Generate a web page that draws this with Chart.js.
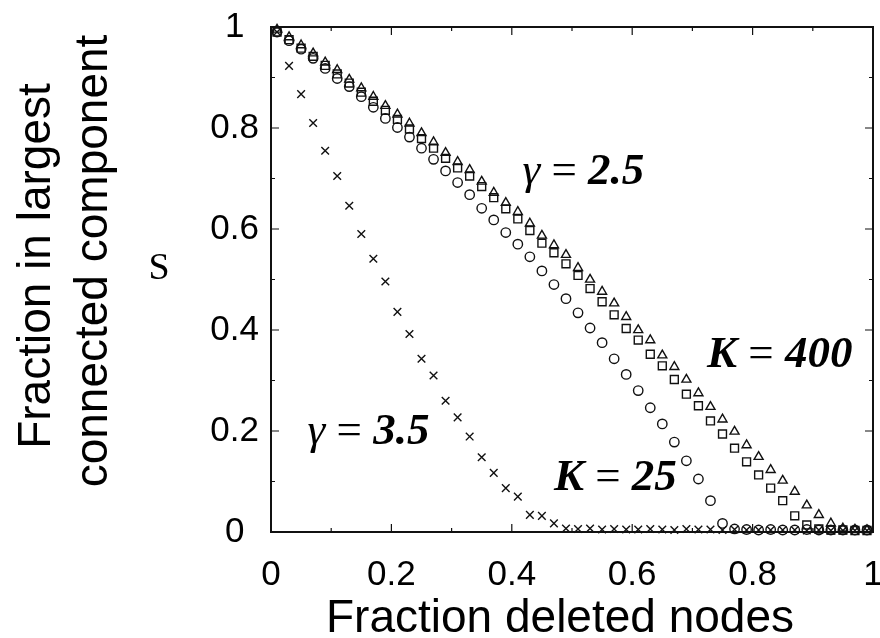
<!DOCTYPE html>
<html>
<head>
<meta charset="utf-8">
<title>Fraction in largest connected component</title>
<script src="https://cdn.jsdelivr.net/npm/chart.js@4.4.1/dist/chart.umd.min.js"></script>
<style>
  html, body { margin: 0; padding: 0; background: #ffffff; }
  #wrap { width: 880px; height: 638px; position: relative; }
</style>
</head>
<body>
<div id="wrap"><canvas id="chart"></canvas></div>
<script>
// Fraction of nodes deleted at each sample
const fractionDeleted = [
  0.01, 0.03, 0.05, 0.07, 0.09, 0.11, 0.13, 0.15, 0.17, 0.19,
  0.21, 0.23, 0.25, 0.27, 0.29, 0.31, 0.33, 0.35, 0.37, 0.39,
  0.41, 0.43, 0.45, 0.47, 0.49, 0.51, 0.53, 0.55, 0.57, 0.59,
  0.61, 0.63, 0.65, 0.67, 0.69, 0.71, 0.73, 0.75, 0.77, 0.79,
  0.81, 0.83, 0.85, 0.87, 0.89, 0.91, 0.93, 0.95, 0.97, 0.99
];

// S: fraction of nodes in the largest connected component
const sGamma25Triangle = [
  0.995, 0.980, 0.964, 0.948, 0.930, 0.915, 0.896, 0.879, 0.862, 0.844,
  0.827, 0.809, 0.790, 0.772, 0.751, 0.733, 0.717, 0.694, 0.672, 0.652,
  0.634, 0.611, 0.587, 0.568, 0.549, 0.523, 0.500, 0.476, 0.453, 0.426,
  0.400, 0.380, 0.350, 0.327, 0.302, 0.275, 0.248, 0.223, 0.199, 0.172,
  0.149, 0.123, 0.102, 0.080, 0.053, 0.034, 0.017, 0.007, 0.005, 0.004
];
const sK400Square = [
  0.990, 0.975, 0.958, 0.942, 0.924, 0.907, 0.889, 0.871, 0.853, 0.835,
  0.817, 0.798, 0.779, 0.760, 0.740, 0.721, 0.705, 0.684, 0.662, 0.640,
  0.620, 0.597, 0.572, 0.553, 0.531, 0.508, 0.482, 0.456, 0.430, 0.403,
  0.380, 0.352, 0.329, 0.302, 0.273, 0.250, 0.220, 0.194, 0.166, 0.139,
  0.113, 0.087, 0.062, 0.032, 0.014, 0.006, 0.004, 0.004, 0.003, 0.003
];
const sK25Circle = [
  0.990, 0.973, 0.956, 0.938, 0.918, 0.898, 0.882, 0.862, 0.841, 0.819,
  0.801, 0.782, 0.760, 0.738, 0.715, 0.692, 0.668, 0.641, 0.618, 0.593,
  0.570, 0.545, 0.517, 0.490, 0.462, 0.434, 0.404, 0.375, 0.343, 0.312,
  0.280, 0.246, 0.214, 0.178, 0.141, 0.105, 0.062, 0.017, 0.006, 0.005,
  0.004, 0.005, 0.004, 0.004, 0.005, 0.004, 0.004, 0.004, 0.004, 0.004
];
const sGamma35Cross = [
  0.990, 0.923, 0.867, 0.810, 0.755, 0.705, 0.646, 0.590, 0.541, 0.496,
  0.436, 0.392, 0.343, 0.310, 0.260, 0.227, 0.189, 0.148, 0.117, 0.087,
  0.070, 0.034, 0.032, 0.017, 0.007, 0.006, 0.007, 0.005, 0.006, 0.005,
  0.005, 0.006, 0.005, 0.004, 0.006, 0.005, 0.005, 0.004, 0.005, 0.004,
  0.004, 0.004, 0.004, 0.004, 0.003, 0.004, 0.003, 0.003, 0.003, 0.003
];

const xTickLabels = ['0', '0.2', '0.4', '0.6', '0.8', '1'];
const yTickLabels = ['0', '0.2', '0.4', '0.6', '0.8', '1'];

const xAxisTitle = 'Fraction deleted nodes';
const yAxisTitle = ['Fraction in largest', 'connected component'];
const yAxisSymbol = 'S';

// Curve labels, anchored in data coordinates
const curveLabels = [
  { x: 0.519, y: 0.713, runs: [['γ', 'italic'], [' = ', 'normal'], ['2.5', 'italic bold']] },
  { x: 0.845, y: 0.350, runs: [['K', 'italic bold'], [' = ', 'normal'], ['400', 'italic bold']] },
  { x: 0.572, y: 0.107, runs: [['K', 'italic bold'], [' = ', 'normal'], ['25', 'italic bold']] },
  { x: 0.162, y: 0.198, runs: [['γ', 'italic'], [' = ', 'normal'], ['3.5', 'italic bold']] }
];

const SANS = "'Liberation Sans', Arial, Helvetica, sans-serif";
const SERIF = "'Liberation Serif', 'Times New Roman', serif";
const INK = '#111111';

function toPoints(values) {
  return fractionDeleted.map((x, i) => ({ x: x, y: values[i] }));
}

function series(label, values, style, radius) {
  return {
    label: label,
    data: toPoints(values),
    pointStyle: style,
    pointRadius: radius,
    pointHoverRadius: radius,
    pointBorderWidth: 1.4,
    borderColor: INK,
    backgroundColor: 'rgba(0,0,0,0)',
    showLine: false,
    clip: false
  };
}

// Closed frame with inward ticks on all four sides (long at labelled values)
const frameTicks = {
  id: 'frameTicks',
  beforeDatasetsDraw(chart) {
    const { ctx, chartArea: a, scales: { x, y } } = chart;
    const minorStep = 0.1, majorLen = 8, minorLen = 4;
    ctx.save();
    ctx.strokeStyle = '#111';
    ctx.lineWidth = 1.2;
    ctx.beginPath();
    for (let i = 0; i <= 10; i++) {
      const v = i * minorStep;
      const len = i % 2 === 0 ? majorLen : minorLen;
      const px = x.getPixelForValue(v);
      const py = y.getPixelForValue(v);
      ctx.moveTo(px, a.bottom); ctx.lineTo(px, a.bottom - len);
      ctx.moveTo(px, a.top); ctx.lineTo(px, a.top + len);
      ctx.moveTo(a.left, py); ctx.lineTo(a.left + len, py);
      ctx.moveTo(a.right, py); ctx.lineTo(a.right - len, py);
    }
    ctx.stroke();
    ctx.lineWidth = 2;
    ctx.strokeRect(a.left, a.top, a.right - a.left, a.bottom - a.top);
    ctx.restore();
  }
};

// Axis titles, the S symbol and the curve labels
const textLayer = {
  id: 'textLayer',
  afterDraw(chart) {
    const { ctx, chartArea: a, scales: { x, y } } = chart;
    ctx.save();
    ctx.fillStyle = '#000';
    ctx.textAlign = 'center';
    ctx.textBaseline = 'alphabetic';

    ctx.font = '46px ' + SANS;
    ctx.fillText(xAxisTitle, 560, 632);

    [[50, 266], [107, 261]].forEach(([bx, cy], i) => {
      ctx.save();
      ctx.translate(bx, cy);
      ctx.rotate(-Math.PI / 2);
      ctx.fillText(yAxisTitle[i], 0, 0);
      ctx.restore();
    });

    ctx.font = '38px ' + SERIF;
    ctx.fillText(yAxisSymbol, a.left - 112, y.getPixelForValue(0.526) + 13);

    ctx.textAlign = 'left';
    ctx.textBaseline = 'middle';
    curveLabels.forEach(lab => {
      let total = 0;
      const widths = lab.runs.map(([t, st]) => {
        ctx.font = st + ' 45px ' + SERIF;
        const w = ctx.measureText(t).width;
        total += w;
        return w;
      });
      let cx = x.getPixelForValue(lab.x) - total / 2;
      const cy = y.getPixelForValue(lab.y);
      lab.runs.forEach(([t, st], i) => {
        ctx.font = st + ' 45px ' + SERIF;
        ctx.fillText(t, cx, cy);
        cx += widths[i];
      });
    });
    ctx.restore();
  }
};

new Chart(document.getElementById('chart'), {
  type: 'scatter',
  data: {
    datasets: [
      series('γ = 3.5', sGamma35Cross, 'crossRot', 5.4),
      series('K = 25', sK25Circle, 'circle', 4.7),
      series('K = 400', sK400Square, 'rect', 5.6),
      series('γ = 2.5', sGamma25Triangle, 'triangle', 5.2)
    ]
  },
  options: {
    responsive: true,
    maintainAspectRatio: false,
    animation: false,
    events: [],
    layout: { padding: { top: 27, right: 4, left: 0, bottom: 0 } },
    plugins: { legend: { display: false }, tooltip: { enabled: false } },
    scales: {
      x: {
        type: 'linear', min: 0, max: 1,
        grid: { display: false },
        border: { display: false },
        ticks: {
          stepSize: 0.2,
          padding: 14,
          color: '#000',
          font: { family: SANS, size: 35 },
          maxRotation: 0,
          callback: (v, i) => xTickLabels[i]
        },
        afterFit(s) { s.height = 106; s.paddingLeft = 0; s.paddingRight = 0; }
      },
      y: {
        type: 'linear', min: 0, max: 1,
        grid: { display: false },
        border: { display: false },
        ticks: {
          stepSize: 0.2,
          padding: 4,
          crossAlign: 'center',
          color: '#000',
          font: { family: SANS, size: 35 },
          callback: (v, i) => yTickLabels[i]
        },
        afterFit(s) { s.width = 271; s.paddingTop = 0; s.paddingBottom = 0; }
      }
    }
  },
  plugins: [frameTicks, textLayer]
});
</script>
</body>
</html>
